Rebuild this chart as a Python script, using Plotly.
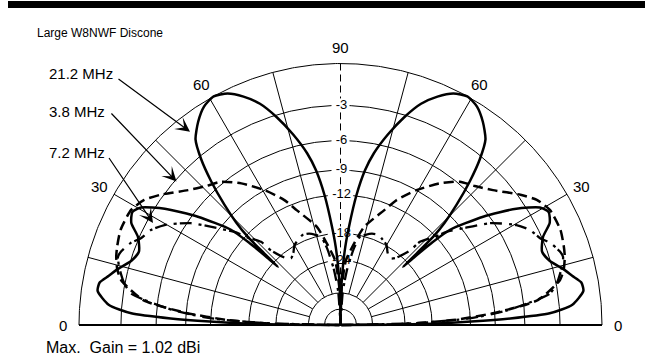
import numpy as np
import plotly.graph_objects as go

# ---------------- data ----------------
# Elevation angle (deg, right half; pattern is symmetric) and relative gain (dB)
elev_212 = [0, 0.3, 0.8, 1.5, 2.2, 3.2, 5, 8, 10, 12, 14, 17, 20, 23.5, 26, 28.5, 30.5,
            33.5, 37.2, 41, 42, 42.6, 42.9, 43.2, 43.6, 44.5, 46, 48, 50, 52, 55, 58,
            61, 64, 67, 70, 73, 76, 79, 81, 83, 85, 86.5, 88, 89.2, 90]
db_212 = [-99, -27.6, -18.0, -11.9, -7.4, -3.8, -2.0, -1.1, -1.15, -1.7, -2.2, -3.05,
          -3.4, -2.9, -2.0, -1.7, -2.1, -3.7, -6.5, -10.1, -13.0, -16.6, -19.2, -15.7,
          -12.2, -10.0, -7.7, -5.2, -3.2, -1.8, -0.9, -0.26, 0, -0.26, -0.9, -1.8, -3.2,
          -4.9, -6.9, -8.8, -11.9, -16.6, -20.7, -27.6, -39.5, -99]

elev_38 = [0, 1, 2.5, 4.6, 7.2, 11.6, 14, 17, 19.5, 23.4, 28.8, 32.5, 35.9, 41.5, 46,
           50.2, 55, 60.6, 65.8, 69.2, 76.4, 80.4, 85.2, 88, 90]
db_38 = [-99, -23.8, -14.5, -8.8, -4.7, -2.65, -2.2, -1.87, -1.7, -1.5, -1.55, -2.0,
         -2.8, -4.3, -5.2, -5.8, -7.1, -9.0, -11.1, -13.0, -16.3, -19.7, -23.9, -32.6, -99]

elev_72 = [0, 1.5, 3, 5, 7.3, 8.6, 10.9, 14, 17, 18.5, 21.3, 23.5, 26.6, 29.6, 34.2,
           38.2, 41.3, 43, 46.3, 47, 50.7, 53.4, 57, 60, 64, 67.2, 71, 74.8, 77.5, 80,
           83, 86, 90]
db_72 = [-99, -20.7, -11.9, -7.7, -4.8, -3.6, -2.95, -2.4, -2.0, -2.1, -2.55, -3.15,
         -3.6, -4.4, -6.3, -8.8, -10.6, -12.1, -14.1, -16.2, -19.0, -19.7, -19.0, -17.9,
         -17.3, -16.9, -17.1, -17.7, -18.2, -20.7, -26.0, -35.0, -99]

series_names = ["21.2 MHz", "3.8 MHz", "7.2 MHz"]

ring_db = [0, -3, -6, -9, -12, -18, -24, -36, -48]
ring_label_db = [-3, -6, -9, -12, -18, -24]
spoke_deg = [15, 30, 45, 60, 75, 105, 120, 135, 150, 165]
angle_tick_deg = [0, 30, 60, 90, 120, 150, 180]
angle_tick_text = ["0", "30", "60", "90", "60", "30", "0"]

title_text = "Large W8NWF Discone"
gain_text = "Max.  Gain = 1.02 dBi"

# ---------------- layout constants ----------------
W, H = 645, 356
CX, CY, RPX = 340.5, 325.0, 261.5   # pixel centre and outer-ring radius


def arrl(db):
    """ARRL log-periodic scale: 0.89 per 2 dB."""
    return 0.89 ** (-np.asarray(db, float) / 2.0)


def pol(theta_deg, r):
    t = np.radians(np.asarray(theta_deg, float))
    return np.asarray(r) * np.cos(t), np.asarray(r) * np.sin(t)


def full_pattern(elev, db):
    e = np.asarray(elev, float)
    r = arrl(db)
    th = np.concatenate([e, 180 - e[::-1]])
    rr = np.concatenate([r, r[::-1]])
    return pol(th, rr)


def px(xp, yp):
    return (xp - CX) / RPX, (CY - yp) / RPX


fig = go.Figure()
GRID = dict(color="black", width=1)

# rings (with gaps at the vertical-axis labels)
for d in ring_db:
    r = float(arrl(d))
    if d in ring_label_db:
        hw = (len(str(d)) * 7.5 + 3) / 2 / RPX
        gap = np.degrees(np.arcsin(min(hw / r, 0.99)))
        a1 = np.linspace(0, 90 - gap, 200)
        a2 = np.linspace(90 + gap, 180, 200)
        x1, y1 = pol(a1, r)
        x2, y2 = pol(a2, r)
        xs = list(x1) + [None] + list(x2)
        ys = list(y1) + [None] + list(y2)
    else:
        a = np.linspace(0, 180, 400)
        xs, ys = pol(a, r)
    fig.add_trace(go.Scatter(x=xs, y=ys, mode="lines", line=GRID, hoverinfo="skip"))

# spokes
r_in = float(arrl(-36))
sx, sy = [], []
for a in spoke_deg:
    x, y = pol([a, a], [r_in, 1.0])
    sx += list(x) + [None]
    sy += list(y) + [None]
fig.add_trace(go.Scatter(x=sx, y=sy, mode="lines", line=GRID, hoverinfo="skip"))

# vertical axis (dashed), broken at labels
lab_r = [float(arrl(d)) for d in ring_label_db]
edges = [1.0]
for d, r in zip(ring_label_db, lab_r):
    edges += [r + 7 / RPX, r - 7 / RPX]
edges += [0.0]
vx, vy = [], []
for i in range(0, len(edges), 2):
    vx += [0, 0, None]
    vy += [edges[i], edges[i + 1], None]
fig.add_trace(go.Scatter(x=vx, y=vy, mode="lines",
                         line=dict(color="black", width=1, dash="7px,4px"), hoverinfo="skip"))

# baseline
fig.add_trace(go.Scatter(x=[-1, 1], y=[0, 0], mode="lines",
                         line=dict(color="black", width=2), hoverinfo="skip"))

# ring labels as text traces (below the curves)
fig.add_trace(go.Scatter(x=[0.004] * len(lab_r), y=lab_r, mode="text",
                         text=[str(d) for d in ring_label_db],
                         textfont=dict(family="Liberation Sans, Arial", size=13, color="black"),
                         hoverinfo="skip"))

# patterns
x, y = full_pattern(elev_38, db_38)
fig.add_trace(go.Scatter(x=x, y=y, mode="lines", name=series_names[1],
                         line=dict(color="black", width=2.5, dash="10px,5px", shape="spline",
                                   smoothing=0.6)))
x, y = full_pattern(elev_72, db_72)
fig.add_trace(go.Scatter(x=x, y=y, mode="lines", name=series_names[2],
                         line=dict(color="black", width=2.3, dash="12px,3px,3px,7px",
                                   shape="spline", smoothing=0.6)))
x, y = full_pattern(elev_212, db_212)
fig.add_trace(go.Scatter(x=x, y=y, mode="lines", name=series_names[0],
                         line=dict(color="black", width=2.5, shape="spline", smoothing=0.6)))

FONT = dict(family="Liberation Sans, Arial", color="black")
ann = []
# angle tick labels
for a, t in zip(angle_tick_deg, angle_tick_text):
    lx, ly = pol(a, 1.062)
    ann.append(dict(x=float(lx), y=float(ly), text=t, showarrow=False,
                    font=dict(size=15, **FONT), xanchor="center", yanchor="middle"))

# title & footer
tx, ty = px(35, 33)
ann.append(dict(x=tx, y=ty, text=title_text, showarrow=False, xanchor="left",
                yanchor="middle", font=dict(size=12, **FONT)))
gx, gy = px(44, 347.5)
ann.append(dict(x=gx, y=gy, text=gain_text, showarrow=False, xanchor="left",
                yanchor="middle", font=dict(size=16, **FONT)))

# series labels with arrows
label_pos = [(47, 73.8), (47, 111.2), (47, 152.8)]
arrow_from = [(117, 78), (110, 112), (108, 156.5)]
arrow_to = [(190, 131.7), (176.5, 181.5), (153, 223)]
for name, lp, af, at in zip(series_names, label_pos, arrow_from, arrow_to):
    lx, ly = px(*lp)
    ann.append(dict(x=lx, y=ly, text=name, showarrow=False, xanchor="left",
                    yanchor="middle", font=dict(size=15, **FONT)))
    ax_, ay_ = px(*af)
    bx, by = px(*at)
    ann.append(dict(x=bx, y=by, ax=ax_, ay=ay_, xref="x", yref="y", axref="x", ayref="y",
                    text="", showarrow=True, arrowhead=3, arrowsize=2.0, arrowwidth=1.2,
                    arrowcolor="black"))
for a in ann:
    a.setdefault("xref", "x")
    a.setdefault("yref", "y")

fig.update_layout(
    width=W, height=H, autosize=False,
    margin=dict(l=0, r=0, t=0, b=0),
    paper_bgcolor="white", plot_bgcolor="white",
    showlegend=False,
    xaxis=dict(visible=False, range=[(0 - CX) / RPX, (W - CX) / RPX], fixedrange=True),
    yaxis=dict(visible=False, range=[(CY - H) / RPX, CY / RPX], fixedrange=True),
    annotations=ann,
    shapes=[dict(type="rect", xref="paper", yref="paper", x0=8 / W, x1=1.0,
                 y0=1 - 8 / H, y1=1.0 - 1 / H, fillcolor="black", line=dict(width=0))],
)

fig.write_html("out.html", config={"displayModeBar": False},
               post_script="document.body.style.margin='0px';document.body.style.overflow='hidden';")
